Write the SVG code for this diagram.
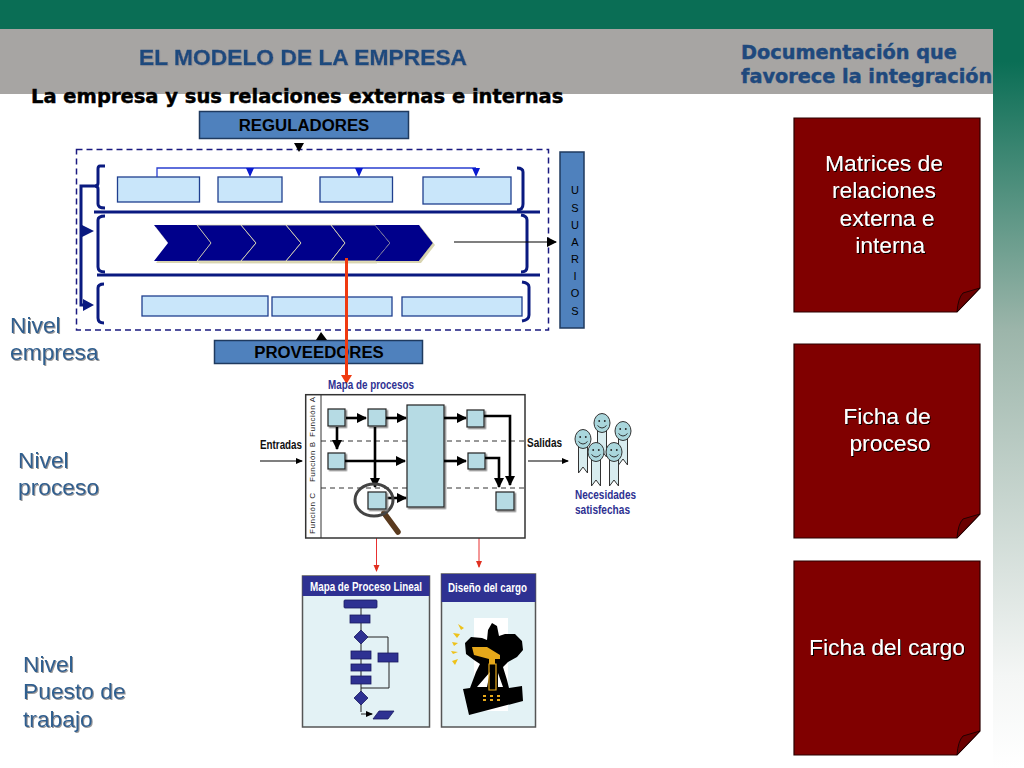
<svg xmlns="http://www.w3.org/2000/svg" width="1024" height="768" viewBox="0 0 1024 768">
<style>
.lb{fill:#c9e6fa;stroke:#1f3f8f;stroke-width:1.3}
.h{font-family:"Liberation Sans",Arial,sans-serif;font-weight:bold;fill:#1f497d;stroke:#1f497d;stroke-width:.35}
.d{font-family:"DejaVu Sans",Verdana,sans-serif;font-weight:bold;stroke-width:.45}
.lev{font-family:"Liberation Sans",Arial,sans-serif;font-size:22.800px;fill:#2f5f8f;filter:url(#sh)}
.card{fill:#800000;stroke:#2a0000;stroke-width:1.2}
.fold{fill:#6a0000;stroke:#1a0000;stroke-width:.9}
.ct{font-family:"Liberation Sans",Arial,sans-serif;font-size:22.800px;fill:#fff;text-anchor:middle;filter:url(#shd)}
.box{fill:#4f81bd;stroke:#1f3a5f;stroke-width:1.5}
.bt{font-family:"Liberation Sans",Arial,sans-serif;font-weight:bold;font-size:16.800px;fill:#000;text-anchor:middle}
.br{fill:none;stroke:#0a1a80;stroke-width:3}
.sq{fill:#b6dbe4;stroke:#222;stroke-width:1.2;filter:url(#gs)}
.k{stroke:#000;stroke-width:2.6;fill:none}
.k1{stroke:#000;stroke-width:1.2;fill:none}
.dash{stroke:#333;stroke-width:1;stroke-dasharray:5 4}
.small{font-family:"Liberation Sans",Arial,sans-serif;font-weight:bold;fill:#111;font-size:12.500px}
.nv{font-family:"Liberation Sans",Arial,sans-serif;font-weight:bold;fill:#2e3192;font-size:12.500px}
.w{font-family:"Liberation Sans",Arial,sans-serif;font-weight:bold;fill:#fff;font-size:13px}
.navy{fill:#2e3192}
.fl{fill:#2e3192;stroke:#1a1a60;stroke-width:.8}
.fk{stroke:#222;stroke-width:1;fill:none}
.pan{fill:#e3f2f5;stroke:#555;stroke-width:1.5}
</style>
<defs>
<linearGradient id="g" gradientUnits="userSpaceOnUse" x1="0" y1="0" x2="0" y2="768"><stop offset="0" stop-color="#0a6e55"/><stop offset=".08" stop-color="#0a6e55"/><stop offset=".43" stop-color="#9cb5aa"/><stop offset=".88" stop-color="#f4f6f5"/><stop offset="1" stop-color="#fff"/></linearGradient>
<filter id="sh" x="-10%" y="-10%" width="120%" height="130%"><feDropShadow dx="1" dy="1" stdDeviation=".5" flood-color="#999"/></filter>
<filter id="shd" x="-10%" y="-10%" width="120%" height="130%"><feDropShadow dx="1" dy="1" stdDeviation=".4" flood-color="#000"/></filter>
<filter id="gs" x="-20%" y="-20%" width="150%" height="150%"><feDropShadow dx="1.500" dy="1.500" stdDeviation=".6" flood-color="#888"/></filter>
<filter id="cs" x="-5%" y="-10%" width="110%" height="130%"><feDropShadow dx="2" dy="2" stdDeviation=".6" flood-color="#d8d4b0"/></filter>
<marker id="a" markerWidth="8" markerHeight="8" refX="6" refY="3" orient="auto" markerUnits="userSpaceOnUse"><path d="M0 0L7 3L0 6Z" fill="#000"/></marker>
<marker id="al" markerWidth="12" markerHeight="12" refX="9" refY="5" orient="auto" markerUnits="userSpaceOnUse"><path d="M0 0L10 5L0 10Z" fill="#000"/></marker>
<marker id="ar" markerWidth="8" markerHeight="8" refX="6" refY="3" orient="auto" markerUnits="userSpaceOnUse"><path d="M0 0L7 3L0 6Z" fill="#e03020"/></marker>
<g id="persona">
<path d="M-4.500 6V-0H4.500V34L0 28L-4.500 34Z" fill="#d8ecef" stroke="#333" stroke-width="1"/>
<ellipse cx="0" cy="0" rx="8" ry="9.500" fill="#a9d6dc" stroke="#333" stroke-width="1"/>
<circle cx="-2.800" cy="-2" r=".9" fill="#222"/><circle cx="2.800" cy="-2" r=".9" fill="#222"/>
<path d="M-4.500 2.500Q0 7.500 4.500 2.500" fill="none" stroke="#222" stroke-width=".9"/>
</g>
</defs>
<rect width="1024" height="768" fill="#fff"/>
<rect x="0" y="0" width="1024" height="29" fill="#0a6e55"/>
<rect x="993" y="0" width="31" height="768" fill="url(#g)"/>
<rect x="0" y="29" width="993" height="65" fill="#a7a5a3"/>

<g id="title">
<text class="h" x="139" y="65" font-size="22.800" filter="url(#sh)">EL MODELO DE LA EMPRESA</text>
<text class="d" x="741" y="59" font-size="19.300" fill="#1f497d" stroke="#1f497d">Documentación que</text>
<text class="d" x="741" y="83" font-size="19.300" fill="#1f497d" stroke="#1f497d">favorece la integración</text>
<text class="d" x="31" y="103" font-size="19.500" fill="#000" stroke="#000">La empresa y sus relaciones externas e internas</text>
</g>

<g id="levels">
<text class="lev" x="10" y="333">Nivel</text><text class="lev" x="10" y="360">empresa</text>
<text class="lev" x="18" y="468">Nivel</text><text class="lev" x="18" y="495">proceso</text>
<text class="lev" x="23" y="672">Nivel</text><text class="lev" x="23" y="699">Puesto de</text><text class="lev" x="23" y="727">trabajo</text>
</g>

<g id="reguladores"><rect class="box" x="199.500" y="111.500" width="209" height="27"/><text class="bt" x="304" y="131">REGULADORES</text></g>
<g id="usuarios"><rect class="box" x="560" y="152" width="24" height="176"/>
<g font-family="Liberation Sans,Arial,sans-serif" font-size="11" text-anchor="middle" fill="#000">
<text x="575" y="194">U</text><text x="575" y="212">S</text><text x="575" y="229">U</text><text x="575" y="246">A</text><text x="575" y="263">R</text><text x="575" y="280">I</text><text x="575" y="297">O</text><text x="575" y="315">S</text></g></g>
<g id="proveedores"><rect class="box" x="214.500" y="340.500" width="208" height="23"/><text class="bt" x="319" y="358">PROVEEDORES</text></g>

<g id="empresa-frame">
<rect x="76.500" y="149.500" width="472" height="180.500" fill="none" stroke="#1a1a80" stroke-width="1.500" stroke-dasharray="6 4"/>
<path class="br" d="M105 166H100Q98 166 98 169V183Q98 186 95 186Q98 186 98 189V204Q98 208 105 208"/>
<path class="br" d="M517 168Q523 168 523 172V204Q523 210 517 210"/>
<path class="br" d="M105 216Q98 216 98 220V267Q98 272 105 272"/>
<path class="br" d="M521 215Q527 216 527 220V267Q527 272 521 272"/>
<path class="br" d="M104 284Q98 284 98 288V318Q98 323 104 323"/>
<path class="br" d="M522 282Q529 283 529 287V315Q529 320 522 321"/>
</g>

<g id="activos">
<rect class="lb" x="117.500" y="177" width="82" height="25"/>
<rect class="lb" x="218" y="177" width="64" height="25"/>
<rect class="lb" x="320" y="177" width="72.500" height="25"/>
<rect class="lb" x="423" y="177" width="88" height="27"/>
<rect class="lb" x="142" y="296" width="126" height="20"/>
<rect class="lb" x="272" y="297" width="120" height="19"/>
<rect class="lb" x="402" y="297" width="120" height="19"/>
</g>

<g id="cadena" filter="url(#cs)" fill="#00008b" stroke="#e8e4b8" stroke-width=".8">
<path d="M154 225H197L211 243L197 261H154L168 243Z" stroke="none"/>
<path d="M197 225H241L256 243L241 261H197L211 243Z"/>
<path d="M241 225H286L301 243L286 261H241L256 243Z"/>
<path d="M286 225H331L345 243L331 261H286L301 243Z"/>
<path d="M331 225H375L390 243L375 261H331L345 243Z"/>
<path d="M375 225H419L433 243L419 261H375L390 243Z" stroke="none"/>
</g>

<g id="connectors">
<path d="M94 212H540M97 275H540" stroke="#0a1a80" stroke-width="3" fill="none"/>
<path d="M157 177V168H476" stroke="#2a3fd0" stroke-width="1.300" fill="none"/>
<path d="M246 168H254L250 177ZM355 168H363L359 177ZM472 168H480L476 177Z" fill="#0a1ad0"/>
<path d="M97 186H81V305H88" stroke="#0a1a80" stroke-width="3" fill="none"/>
<path d="M82 225L94 231L82 237ZM83 299L94 305L83 311Z" fill="#0a1a80"/>
<path d="M454 242H556" class="k1" marker-end="url(#al)"/>
<path d="M294 143H304L299 152Z" fill="#000"/>
<path d="M316 340L321 332L327 340Z" fill="#000"/>
<path d="M346.500 258V376" stroke="#f03a10" stroke-width="3" fill="none"/>
<path d="M341 375H352L346.500 384Z" fill="#f03a10"/>
<path d="M376.500 513V571" stroke="#e83030" stroke-width="1" fill="none" marker-end="url(#ar)"/>
<path d="M479 472V567" stroke="#e83030" stroke-width="1" fill="none" marker-end="url(#ar)"/>
</g>

<g id="mapa-procesos">
<text class="nv" x="328" y="389" textLength="86" lengthAdjust="spacingAndGlyphs">Mapa de procesos</text>
<rect x="305.700" y="394.700" width="219.300" height="143.300" fill="#fff" stroke="#333" stroke-width="1.500"/>
<path d="M321 395V538" stroke="#333" stroke-width="1"/>
<path class="dash" d="M321 441H525M321 488H525"/>
<g font-family="Liberation Sans,Arial,sans-serif" font-size="8" fill="#222">
<text transform="translate(315 437) rotate(-90)" textLength="40">Función A</text>
<text transform="translate(315 482) rotate(-90)" textLength="40">Función B</text>
<text transform="translate(315 534) rotate(-90)" textLength="41">Función C</text></g>
<rect class="sq" x="328" y="409" width="17" height="17"/>
<rect class="sq" x="368" y="409" width="18" height="17"/>
<rect class="sq" x="328" y="453" width="17" height="16"/>
<rect class="sq" x="407" y="405" width="37" height="102"/>
<rect class="sq" x="467" y="410" width="17" height="17"/>
<rect class="sq" x="468" y="453" width="17" height="16"/>
<rect class="sq" x="496" y="492" width="18" height="18"/>
<path class="k" d="M346 418H366" marker-end="url(#al)"/>
<path class="k" d="M386 418H406" marker-end="url(#al)"/>
<path class="k" d="M337 427V449" marker-end="url(#al)"/>
<path class="k" d="M345 461H405" marker-end="url(#al)"/>
<path class="k" d="M375 427V487" stroke-width="1.800" marker-end="url(#al)"/>
<path class="k" d="M444 418H466" stroke-width="1.500" marker-end="url(#al)"/>
<path class="k" d="M444 461H466" stroke-width="1.500" marker-end="url(#al)"/>
<path class="k" d="M387 498H406" marker-end="url(#al)"/>
<path class="k" d="M484 416H510V485" stroke-width="3" marker-end="url(#al)"/>
<path class="k" d="M485 458H499V487" stroke-width="3" marker-end="url(#al)"/>
<path d="M384 513L398 532" stroke="#5a3a1e" stroke-width="5.500" stroke-linecap="round"/>
<ellipse cx="374" cy="500" rx="19" ry="16" fill="none" stroke="#444" stroke-width="3"/>
<rect class="sq" x="368" y="492" width="18" height="17"/>
<text class="small" x="260" y="449" textLength="42" lengthAdjust="spacingAndGlyphs">Entradas</text>
<text class="small" x="527" y="447" textLength="35" lengthAdjust="spacingAndGlyphs">Salidas</text>
<path d="M260 461H302" class="k1" marker-end="url(#a)"/>
<path d="M528 461H568" class="k1" marker-end="url(#a)"/>
</g>

<g id="necesidades">
<use href="#persona" x="602" y="423"/>
<use href="#persona" x="623" y="431"/>
<use href="#persona" x="583" y="439"/>
<use href="#persona" x="596" y="452"/>
<use href="#persona" x="614" y="452"/>
<text class="nv" x="575" y="499" textLength="61" lengthAdjust="spacingAndGlyphs">Necesidades</text>
<text class="nv" x="575" y="514" textLength="55" lengthAdjust="spacingAndGlyphs">satisfechas</text>
</g>

<g id="mapa-lineal">
<rect class="pan" x="302.500" y="576" width="127" height="151"/>
<rect class="navy" x="302.500" y="576" width="127" height="20"/>
<text class="w" x="310" y="591" textLength="112" lengthAdjust="spacingAndGlyphs">Mapa de Proceso Lineal</text>
<path class="fk" d="M361 608V712M361 637H388V653M389 662V688H361"/>
<path d="M361 714H372" class="fk" marker-end="url(#a)"/>
<rect class="fl" x="344" y="600" width="33" height="8" rx="1"/>
<rect class="fl" x="350" y="615" width="20" height="8"/>
<path class="fl" d="M361 630L368 637L361 644L354 637Z"/>
<rect class="fl" x="351" y="651" width="20" height="8"/>
<rect class="fl" x="378" y="653" width="20" height="9"/>
<rect class="fl" x="351" y="664" width="20" height="7"/>
<rect class="fl" x="351" y="676" width="20" height="8"/>
<path class="fl" d="M361 691L368 698L361 705L354 698Z"/>
<path class="fl" d="M379 711H394L388 719H373Z"/>
</g>

<g id="diseno-cargo">
<rect class="pan" x="441.500" y="574" width="94" height="153"/>
<rect class="navy" x="441.500" y="574" width="94" height="28"/>
<text class="w" x="448" y="592" textLength="79" lengthAdjust="spacingAndGlyphs">Diseño del cargo</text>
<rect x="474" y="618" width="34" height="93" fill="#fff"/>
<path d="M492 623L497 626L499 636L505 634L515 634L522 641L523 650L517 657L508 662L503 667L507 680L509 688L522 686L523 701L469 715L463 689L470 688L476 672L480 664L474 660L466 654L465 643L471 637L482 638L487 640L488 630Z" fill="#000"/>
<path d="M477 687L490 672L487 687ZM498 673L503 687H498Z" fill="#fff"/>
<path d="M472 647L487 647L500 655L500 659L495 659V664H489V659L474 655Z" fill="#e6a81a"/>
<path d="M489 664H496V690H489Z" fill="none" stroke="#e6a81a" stroke-width="1.200"/>
<path d="M483 695h3v2h-3zM490 695h3v2h-3zM497 695h3v2h-3zM483 699h3v2h-3zM490 699h3v2h-3zM497 699h3v2h-3z" fill="#e6a81a"/>
<path d="M458 624L464 628L461 630ZM453 633L460 634L457 638ZM452 642L458 643L454 646ZM451 651L458 652L453 654ZM452 661L458 659L455 665Z" fill="#eec21a"/>
</g>

<g id="card1"><path class="card" d="M794 118H980V288L957 312H794Z"/><path class="fold" d="M957 312Q958 298 963 293L980 288Z"/>
<text class="ct" x="884" y="171">Matrices de</text><text class="ct" x="884" y="198">relaciones</text><text class="ct" x="887" y="226">externa e</text><text class="ct" x="890" y="253">interna</text></g>
<g id="card2"><path class="card" d="M794 344H980V514L957 538H794Z"/><path class="fold" d="M957 538Q958 524 963 519L980 514Z"/>
<text class="ct" x="887" y="424">Ficha de</text><text class="ct" x="890" y="451">proceso</text></g>
<g id="card3"><path class="card" d="M794 561H980V731L957 755H794Z"/><path class="fold" d="M957 755Q958 741 963 736L980 731Z"/>
<text class="ct" x="887" y="655">Ficha del cargo</text></g>
</svg>
